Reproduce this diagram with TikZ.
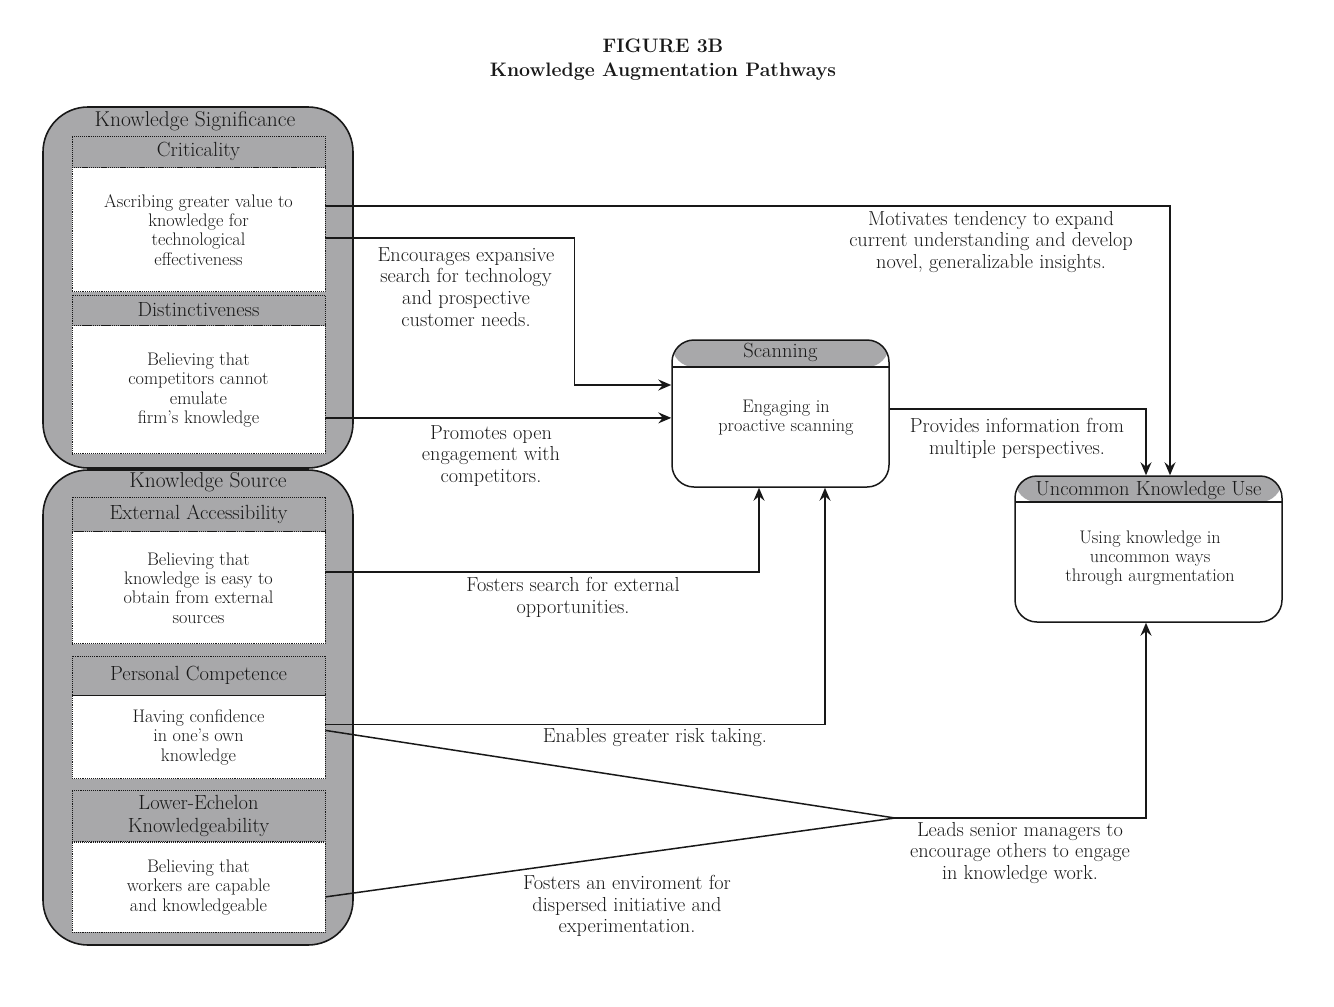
\documentclass[tikz,border=0pt]{standalone}
\usepackage{fontspec}
\usepackage{xcolor}
\usetikzlibrary{positioning,arrows.meta}
\definecolor{ink}{RGB}{24,24,24}
\definecolor{boxgray}{RGB}{168,168,170}

\begin{document}
\begin{tikzpicture}[x=1pt, y=-1pt, color=ink,
      font=\fontsize{20.3}{21.7}\selectfont,
      grp/.style={draw, line width=1.6pt, fill=boxgray, rounded corners=45pt, minimum width=310, inner sep=0},
      hdr/.style={draw, densely dotted, line width=0.9pt, fill=boxgray, minimum width=253, inner sep=0, align=center, font=\fontsize{20.5}{22.5}\selectfont},
      body/.style={draw, densely dotted, line width=0.9pt, fill=white, minimum width=253, inner sep=0, align=center, font=\fontsize{18.2}{19.3}\selectfont},
      procbox/.style={draw, line width=1.5pt, rounded corners=22pt, inner sep=0,
         preaction={fill=white, path picture={\fill[boxgray] (path picture bounding box.north west) rectangle ([yshift=-#1]path picture bounding box.north east);
            \draw[line width=1.2pt] ([yshift=-#1]path picture bounding box.north west) -- ([yshift=-#1]path picture bounding box.north east);}}},
      conn/.style={line width=1.5pt, -{Stealth[length=13pt,width=11pt,inset=4.5pt]}},
      lbl/.style={align=center}]
      \useasboundingbox (0,0) rectangle (1334,1007);

      \node[name=title, align=center, font=\fontsize{19.5}{24}\selectfont\bfseries] at (663,60) {FIGURE 3B\\Knowledge Augmentation Pathways};

      \node[grp, name=sig, minimum height=361] at (198,287.5) {};
      \node[grp, name=src, minimum height=475] at (198,707.5) {};
      \node[name=sigtitle, font=\fontsize{21.5}{22}\selectfont] at (195,121) {Knowledge Significance};
      \node[name=srctitle, font=\fontsize{21.5}{22}\selectfont] at (208,482) {Knowledge Source};

      \node[hdr, name=crit, minimum height=31] at (198.5,151.5) {Criticality};
      \node[body, name=critbody, minimum height=124, below=0pt of crit] {Ascribing greater value to\\knowledge for\\technological\\effectiveness};
      \node[hdr, name=dist, minimum height=30] at (198.5,310) {Distinctiveness};
      \node[body, name=distbody, minimum height=128, below=0pt of dist] {Believing that\\competitors cannot\\emulate\\firm's knowledge};

      \node[hdr, name=ea, minimum height=34] at (198.5,514) {External Accessibility};
      \node[body, name=eabody, minimum height=112, below=0pt of ea] {Believing that\\knowledge is easy to\\obtain from external\\sources};
      \node[hdr, name=pc, minimum height=39] at (198.5,675.5) {Personal Competence};
      \node[body, name=pcbody, minimum height=83, below=0pt of pc] {Having confidence\\in one's own\\knowledge};
      \node[hdr, name=le, minimum height=51.5] at (198.5,815.75) {Lower-Echelon\\Knowledgeability};
      \node[body, name=lebody, minimum height=90, below=0pt of le] {Believing that\\workers are capable\\and knowledgeable};

      \node[procbox=27pt, name=scan, minimum width=217, minimum height=147] at (780.5,413.5) {};
      \node[name=scantitle, font=\fontsize{20.5}{22}\selectfont] at ([yshift=-13pt]scan.north) {Scanning};
      \node[name=scantext, align=center, font=\fontsize{18.2}{19.3}\selectfont] at (786,418) {Engaging in\\proactive scanning};

      \node[procbox=26pt, name=uku, minimum width=267, minimum height=146] at (1148.5,549) {};
      \node[name=ukutitle, font=\fontsize{20.5}{22}\selectfont] at ([yshift=-15pt]uku.north) {Uncommon Knowledge Use};
      \node[name=ukutext, align=center, font=\fontsize{18.2}{19.3}\selectfont] at (1150,558) {Using knowledge in\\uncommon ways\\through aurgmentation};

      \coordinate (meet) at (895,818);

      \draw[conn] ([yshift=24pt]critbody.east) -| ([xshift=21.5pt]uku.north);
      \draw[conn] ([yshift=-8pt]critbody.east) -- ++(249,0) |- ([yshift=28.5pt]scan.west);
      \draw[conn] ([yshift=-28pt]distbody.east) -- ([yshift=-28pt]distbody.east -| scan.west);
      \draw[conn] ([yshift=4.5pt]scan.east) -| ([xshift=-2.5pt]uku.north);
      \draw[conn] ([yshift=16pt]eabody.east) -| ([xshift=-21.5pt]scan.south);
      \draw[conn] ([yshift=13pt]pcbody.east) -| ([xshift=44.5pt]scan.south);
      \draw[line width=1.5pt] ([yshift=7pt]pcbody.east) -- (meet);
      \draw[line width=1.5pt] ([yshift=-9.5pt]lebody.east) -- (meet);
      \draw[conn] (meet) -| ([xshift=-2.5pt]uku.south);

      \node[lbl, name=motlbl] at (991,242) {Motivates tendency to expand\\current understanding and develop\\novel, generalizable insights.};
      \node[lbl, name=enclbl] at (466,287) {Encourages expansive\\search for technology\\and prospective\\customer needs.};
      \node[lbl, name=promlbl] at (491,456) {Promotes open\\engagement with\\competitors.};
      \node[lbl, name=provlbl] at (1017,438) {Provides information from\\multiple perspectives.};
      \node[lbl, name=extlbl] at (573,597.5) {Fosters search for external\\opportunities.};
      \node[lbl, name=risklbl] at (655,738) {Enables greater risk taking.};
      \node[lbl, name=leadlbl] at (1020,853) {Leads senior managers to\\encourage others to engage\\in knowledge work.};
      \node[lbl, name=envlbl] at (627,906) {Fosters an enviroment for\\dispersed initiative and\\experimentation.};
   \end{tikzpicture}
\end{document}
